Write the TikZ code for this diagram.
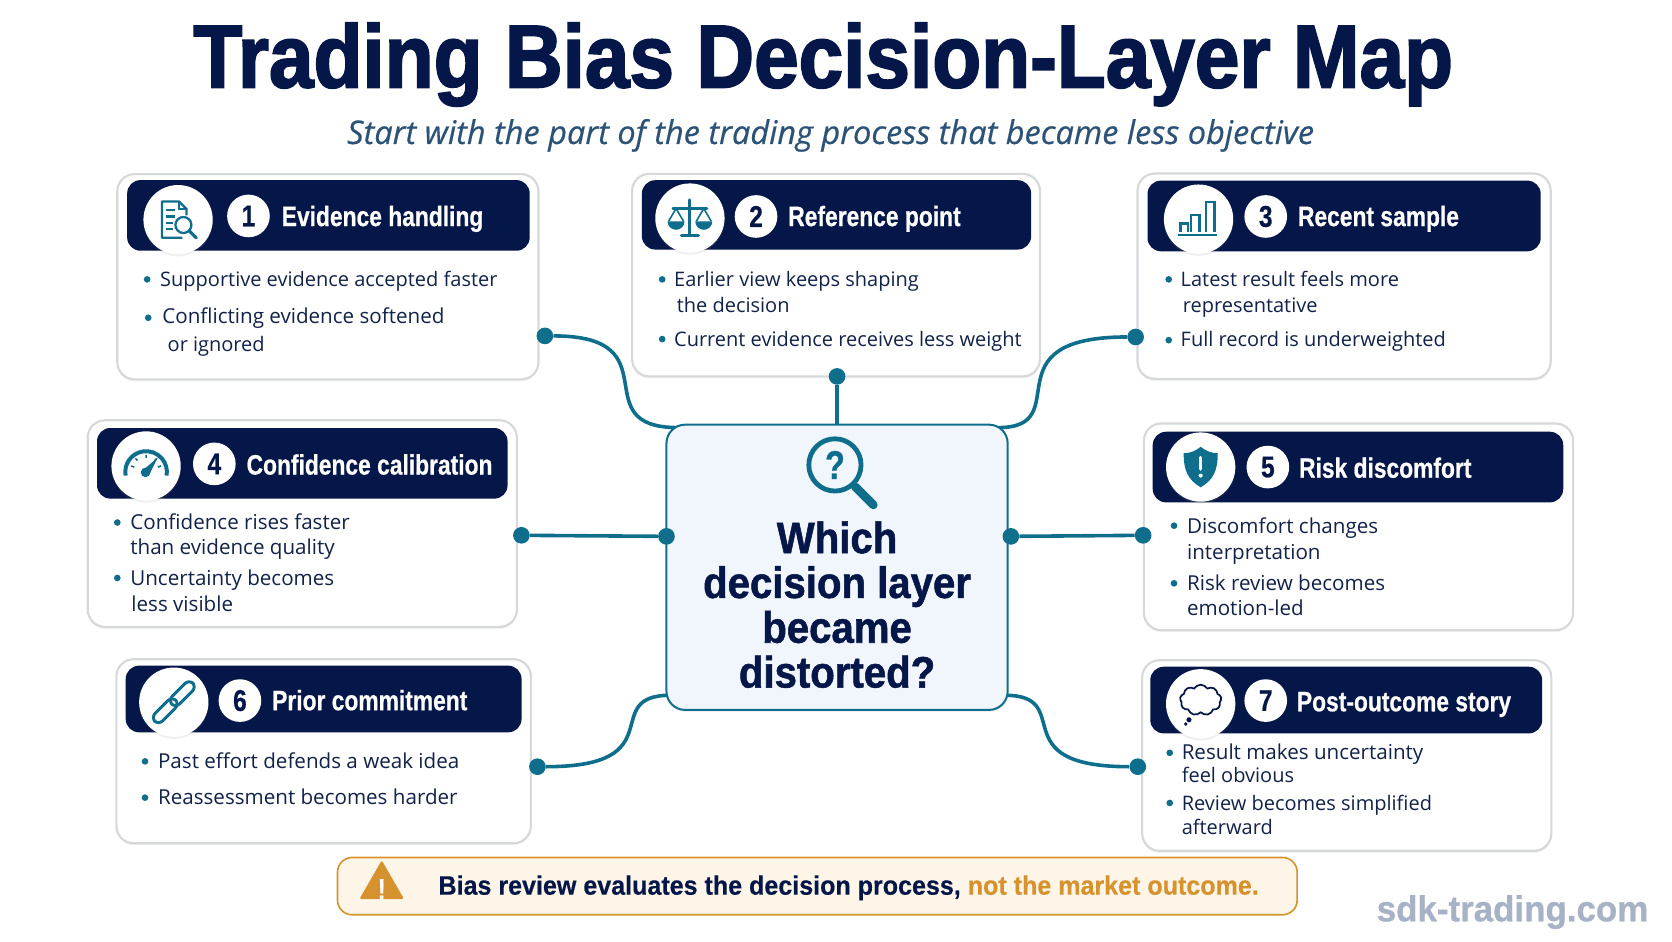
\documentclass[tikz,border=0pt]{standalone}
\usepackage{fontspec}
\usepackage{tikz}
\usetikzlibrary{shapes,arrows,positioning,calc,backgrounds,shadows}
\setmainfont{Open Sans}
\newfontfamily\narrowfont[FakeStretch=0.815,BoldFeatures={FakeBold=0.6}]{Liberation Sans}
\newfontfamily\titlefont[FakeStretch=0.897,BoldFeatures={FakeBold=2}]{Liberation Sans}
\newfontfamily\hubfont[FakeStretch=0.913,BoldFeatures={FakeBold=1.2}]{Liberation Sans}
\newfontfamily\stripfont[FakeStretch=0.94,BoldFeatures={FakeBold=0.4}]{Liberation Sans}
\newfontfamily\sitefont[FakeStretch=0.97,BoldFeatures={FakeBold=0.8}]{Liberation Sans}
\newfontfamily\subfont[ItalicFeatures={FakeBold=0.5}]{Open Sans}
\definecolor{navycolor}{RGB}{5, 22, 72}
\definecolor{tealcolor}{RGB}{15, 110, 140}
\definecolor{borderGrey}{RGB}{214, 216, 218}
\definecolor{hubcolor}{RGB}{240, 246, 251}
\definecolor{subcolor}{RGB}{44, 82, 120}
\definecolor{warncolor}{RGB}{214, 146, 44}
\definecolor{warnfill}{RGB}{253, 245, 232}
\definecolor{inkcolor}{RGB}{18, 34, 72}
\definecolor{markcolor}{RGB}{168, 178, 198}

\tikzset{
    softshadow/.style={drop shadow={opacity=0.12, shadow xshift=0pt, shadow yshift=-1.5pt}},
    cardbox/.style={rectangle, draw=borderGrey, line width=1.6pt, fill=white, rounded corners=13pt, softshadow},
    headbar/.style={rectangle, fill=navycolor, rounded corners=10pt},
    iconbadge/.style={circle, fill=white, minimum size=52pt, inner sep=0pt, softshadow},
    numbadge/.style={circle, fill=white, text=navycolor, minimum size=32pt, inner sep=0pt, font=\narrowfont\bfseries\fontsize{22.5}{22.5}\selectfont},
    headtext/.style={anchor=base west, text=white, inner sep=0pt, font=\narrowfont\bfseries\fontsize{21}{24}\selectfont},
    itemtext/.style={anchor=base west, inner sep=0pt, text=inkcolor, font=\fontsize{15}{17}\selectfont},
    itemwide/.style={itemtext, font=\fontsize{15.45}{17}\selectfont},
    bulletdot/.style={circle, fill=tealcolor, minimum size=5pt, inner sep=0pt},
    portdot/.style={circle, fill=tealcolor, minimum size=12.5pt, inner sep=0pt},
    link/.style={draw=tealcolor, line width=2.7pt},
    iconline/.style={draw=tealcolor, line width=1.7pt}
}

\begin{document}
\begin{tikzpicture}[x=0.8pt, y=-0.8pt]
    \useasboundingbox (0,0) rectangle (1568,882.5);

    % Title lines
    \node[text=navycolor, anchor=base, inner sep=0pt, font=\titlefont\bfseries\fontsize{67}{70}\selectfont] (maintitle) at (772,82) {Trading Bias Decision-Layer Map};
    \node[text=subcolor, anchor=base, inner sep=0pt, font=\subfont\itshape\fontsize{24.4}{26}\selectfont] (subtitle) at (779,135) {Start with the part of the trading process that became less objective};

    % Seven cards
    \node[cardbox, minimum width=316pt, minimum height=154pt] (card1) at (307.5,259.5) {};
    \node[cardbox, minimum width=306pt, minimum height=152pt] (card2) at (784,258) {};
    \node[cardbox, minimum width=310pt, minimum height=154pt] (card3) at (1260.5,259) {};
    \node[cardbox, minimum width=322pt, minimum height=155pt] (card4) at (283.5,491) {};
    \node[cardbox, minimum width=322pt, minimum height=155pt] (card5) at (1274,494) {};
    \node[cardbox, minimum width=311pt, minimum height=138pt] (card6) at (303.5,704.5) {};
    \node[cardbox, minimum width=307pt, minimum height=143pt] (card7) at (1263,708.5) {};

    % Header bars
    \node[headbar, minimum width=302pt, minimum height=53pt] (bar1) at (308,202) {};
    \node[headbar, minimum width=292pt, minimum height=52pt] (bar2) at (784.5,201.5) {};
    \node[headbar, minimum width=295pt, minimum height=53pt] (bar3) at (1260.5,202.5) {};
    \node[headbar, minimum width=308pt, minimum height=53pt] (bar4) at (283.5,434.5) {};
    \node[headbar, minimum width=308pt, minimum height=53pt] (bar5) at (1273.5,438) {};
    \node[headbar, minimum width=297pt, minimum height=50pt] (bar6) at (303.5,655.5) {};
    \node[headbar, minimum width=294pt, minimum height=50pt] (bar7) at (1262.5,656.5) {};

    % Icon badges
    \node[iconbadge] (badge1) at (167,206) {};
    \node[iconbadge] (badge2) at (647,204.5) {};
    \node[iconbadge] (badge3) at (1124,205.5) {};
    \node[iconbadge] (badge4) at (137,437) {};
    \node[iconbadge] (badge5) at (1126,438) {};
    \node[iconbadge] (badge6) at (163,658.5) {};
    \node[iconbadge] (badge7) at (1126,660) {};

    % Numbers
    \node[numbadge] (num1) at (233,202.5) {1};
    \node[numbadge] (num2) at (709,203) {2};
    \node[numbadge] (num3) at (1187,203) {3};
    \node[numbadge] (num4) at (201,435) {4};
    \node[numbadge] (num5) at (1189,438) {5};
    \node[numbadge] (num6) at (225,657) {6};
    \node[numbadge] (num7) at (1187,657) {7};

    % Card titles
    \node[headtext] (head1) at (264,212) {Evidence handling};
    \node[headtext] (head2) at (739,212) {Reference point};
    \node[headtext] (head3) at (1217,212) {Recent sample};
    \node[headtext] (head4) at (231,445) {Confidence calibration};
    \node[headtext] (head5) at (1218,448) {Risk discomfort};
    \node[headtext] (head6) at (255,666) {Prior commitment};
    \node[headtext] (head7) at (1216,667) {Post-outcome story};

    % Bullet marks
    \foreach \name/\x/\y in {a/138/262, b/139/298, c/621/262, d/621/318, e/1096/262, f/1096/319, g/110/490, h/110/542, i/1101/493, j/1101/547, k/136/714, l/136/748, m/1097/706, n/1097/753}
        \node[bulletdot] (mark\name) at (\x,\y) {};

    % Bullet texts
    \node[itemtext] (t1a) at (150,269) {Supportive evidence accepted faster};
    \node[itemwide] (t1b) at (152,303) {Conflicting evidence softened};
    \node[itemtext] (t1c) at (157,330) {or ignored};
    \node[itemtext] (t2a) at (632,269) {Earlier view keeps shaping};
    \node[itemtext] (t2b) at (634.5,293) {the decision};
    \node[itemtext] (t2c) at (632,325) {Current evidence receives less weight};
    \node[itemtext] (t3a) at (1107,269) {Latest result feels more};
    \node[itemtext] (t3b) at (1109,293) {representative};
    \node[itemtext] (t3c) at (1107,325) {Full record is underweighted};
    \node[itemwide] (t4a) at (122,497) {Confidence rises faster};
    \node[itemwide] (t4b) at (122,520) {than evidence quality};
    \node[itemwide] (t4c) at (122,549) {Uncertainty becomes};
    \node[itemwide] (t4d) at (123,573) {less visible};
    \node[itemwide] (t5a) at (1113,500) {Discomfort changes};
    \node[itemwide] (t5b) at (1113,525) {interpretation};
    \node[itemwide] (t5c) at (1113,554) {Risk review becomes};
    \node[itemwide] (t5d) at (1113,577) {emotion-led};
    \node[itemwide] (t6a) at (148,721) {Past effort defends a weak idea};
    \node[itemwide] (t6b) at (148,754) {Reassessment becomes harder};
    \node[itemwide] (t7a) at (1108,712) {Result makes uncertainty};
    \node[itemtext] (t7b) at (1108,734) {feel obvious};
    \node[itemtext] (t7c) at (1108,760) {Review becomes simplified};
    \node[itemtext] (t7d) at (1108,783) {afterward};

    % Central question
    \node[rectangle, draw=tealcolor, line width=1.5pt, fill=hubcolor, rounded corners=14pt, minimum width=256pt, minimum height=214pt, softshadow] (hub) at (785,532) {};
    \node[text=navycolor, align=center, font=\hubfont\bfseries\fontsize{33}{33.6}\selectfont] (hubtext) at (785,567) {Which\\decision layer\\became\\distorted?};

    % Port dots
    \node[portdot] (d1) at (511,315) {};
    \node[portdot] (d2) at (785,353) {};
    \node[portdot] (d3) at (1065,316) {};
    \node[portdot] (d4) at (489,502) {};
    \node[portdot] (d4b) at (625,503) {};
    \node[portdot] (d5b) at (948,503) {};
    \node[portdot] (d5) at (1072,502) {};
    \node[portdot] (d6) at (504,719) {};
    \node[portdot] (d7) at (1067,719) {};

    \coordinate (hubnw) at (636,401);
    \coordinate (hubne) at (936,401);
    \coordinate (hubsw) at (629,652);
    \coordinate (hubse) at (942,652);

    % Connectors
    \begin{scope}[on background layer]
        \draw[link] (d1) to[out=0, in=180, out looseness=2, in looseness=1.6] (hubnw);
        \draw[link] (d2) -- (hub);
        \draw[link] (d3) to[out=180, in=0, out looseness=2.3, in looseness=1.3] (hubne);
        \draw[link] (d4) -- (d4b);
        \draw[link] (d5b) -- (d5);
        \draw[link] (d6) to[out=0, in=180, out looseness=2.3, in looseness=1.3] (hubsw);
        \draw[link] (d7) to[out=180, in=0, out looseness=2.3, in looseness=1.3] (hubse);
    \end{scope}

    % Icon 1: document and lens
    \begin{scope}[shift={(badge1.center)}]
        \draw[iconline, line join=round] (8,-4) -- (8,-10) -- (1,-17) -- (-15,-17) -- (-15,17) -- (4,17);
        \draw[iconline] (1,-17) -- (1,-10) -- (8,-10);
        \draw[iconline] (-11,-9) -- (-3,-9) (-11,-3) -- (-3,-3) (-11,3) -- (-5,3) (-11,9) -- (-5,9);
        \draw[iconline] (5,5) circle[radius=7.5];
        \draw[tealcolor, line width=2.4pt, line cap=round] (10.5,10.5) -- (17,17);
    \end{scope}

    % Icon 2: scales
    \begin{scope}[shift={(badge2.center)}]
        \draw[tealcolor, line width=2.2pt, line cap=round] (0,-17) -- (0,15);
        \draw[tealcolor, line width=2pt, line cap=round] (-16,-9) -- (16,-9);
        \draw[tealcolor, line width=2.4pt, line cap=round] (-8,16) -- (8,16);
        \draw[tealcolor, line width=1.2pt, line join=round] (-20,3) -- (-13,-9) -- (-6,3) (20,3) -- (13,-9) -- (6,3);
        \fill[tealcolor] (-21,3) -- (-5,3) arc[start angle=0, end angle=180, radius=8] -- cycle;
        \fill[tealcolor] (5,3) -- (21,3) arc[start angle=0, end angle=180, radius=8] -- cycle;
    \end{scope}

    % Icon 3: bars
    \begin{scope}[shift={(badge3.center)}]
        \draw[iconline] (-17,12) -- (-17,4) -- (-10,4) -- (-10,12);
        \draw[iconline] (-7,12) -- (-7,-4) -- (1,-4) -- (1,12);
        \draw[iconline] (7,12) -- (7,-16) -- (15,-16) -- (15,12);
        \draw[tealcolor, line width=2pt] (-19,15) -- (17,15);
    \end{scope}

    % Icon 4: gauge
    \begin{scope}[shift={(badge4.center)}]
        \draw[tealcolor, line width=3pt] (-19.2,9) arc[start angle=170, end angle=370, radius=19.5];
        \draw[tealcolor, line width=1.2pt] (0,-10.5) -- (0,-7.5) (-10,-7) -- (-8,-5) (10,-7) -- (8,-5) (-14,0) -- (-11,1) (14,0) -- (11,1);
        \fill[tealcolor] (-3,4) -- (11,-8) -- (3,8) -- cycle;
        \fill[tealcolor] (-0.5,6) circle[radius=4.5];
    \end{scope}

    % Icon 5: shield
    \begin{scope}[shift={(badge5.center)}]
        \fill[tealcolor] (0,-19) .. controls (5,-15) and (10,-13) .. (16,-13) .. controls (16,3) and (12,12) .. (0,19) .. controls (-12,12) and (-16,3) .. (-16,-13) .. controls (-10,-13) and (-5,-15) .. (0,-19) -- cycle;
        \draw[white, line width=2.4pt, line cap=round] (0,-9) -- (0,2);
        \fill[white] (0,8) circle[radius=1.9];
    \end{scope}

    % Icon 6: chain
    \begin{scope}[shift={(badge6.center)}]
        \draw[tealcolor, line width=2.2pt, rounded corners=4.5pt, rotate around={45:(8,-8)}] (-6,-13) rectangle (22,-3);
        \draw[tealcolor, line width=2.2pt, rounded corners=4.5pt, rotate around={45:(-8,8)}] (-22,3) rectangle (6,13);
    \end{scope}

    % Icon 7: thought cloud
    \node[cloud, draw=navycolor, line width=1.3pt, fill=white, cloud puffs=9, cloud puff arc=120, minimum width=31pt, minimum height=23pt, inner sep=0pt] (thought) at (1126,656.5) {};
    \fill[navycolor] (1115,675) circle[radius=2.4] (1112,679) circle[radius=1.8];

    % Hub icon
    \draw[tealcolor, line width=3.6pt] (783,436) circle[radius=24.5];
    \draw[tealcolor, line width=6.5pt, line cap=round] (802,456.5) -- (819,473.5);
    \node[text=tealcolor, font=\narrowfont\bfseries\fontsize{30}{30}\selectfont] (hubmark) at (783,436) {?};

    % Warning strip
    \node[rectangle, draw=warncolor, line width=1.2pt, fill=warnfill, rounded corners=11pt, minimum width=720pt, minimum height=43pt] (strip) at (766.5,831) {};
    \node[isosceles triangle, isosceles triangle apex angle=60, shape border rotate=90, fill=warncolor, rounded corners=1.5pt, minimum height=29pt, inner sep=0pt] (warn) at (358,831) {};
    \node[text=white, font=\narrowfont\bfseries\fontsize{22}{22}\selectfont] (warnmark) at (358,834) {!};
    \node[anchor=base west, inner sep=0pt, font=\stripfont\bfseries\fontsize{20}{22}\selectfont] (striptext) at (411,839) {\textcolor{navycolor}{Bias review evaluates the decision process,} \textcolor{warncolor}{not the market outcome.}};

    % Site mark
    \node[text=markcolor, anchor=base east, inner sep=0pt, font=\sitefont\bfseries\fontsize{27}{30}\selectfont] (site) at (1546,864) {sdk-trading.com};
\end{tikzpicture}
\end{document}
